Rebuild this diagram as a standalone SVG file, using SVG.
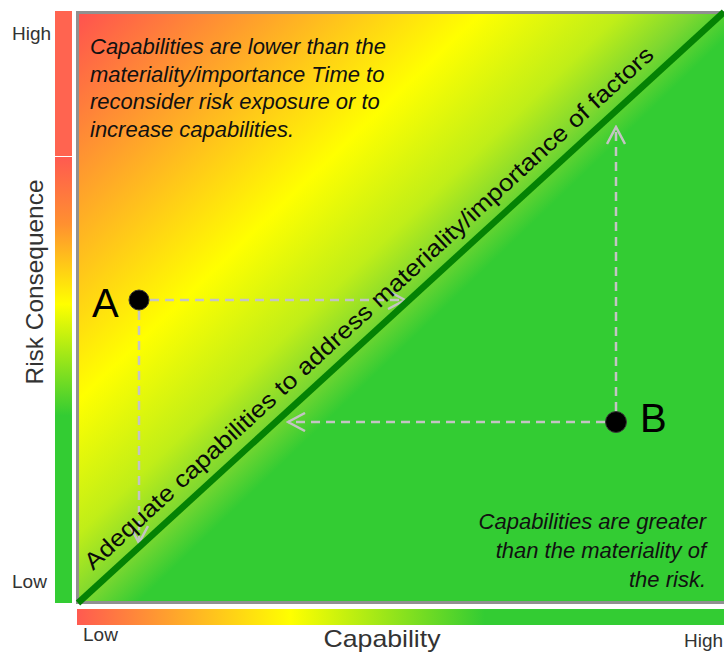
<svg xmlns="http://www.w3.org/2000/svg" width="724" height="652" viewBox="0 0 724 652">
<style>
.lbl{font-family:"Liberation Sans",Arial,sans-serif;fill:#333;}
.note{font-family:"Liberation Sans",Arial,sans-serif;font-style:italic;font-size:22px;fill:#111;}
.dash{stroke:#c4c4c4;stroke-width:2.5;stroke-dasharray:9 6;fill:none;marker-end:url(#arr);}
.pt{fill:#000;stroke:#3a3a3a;stroke-width:1;}
.big{font-family:"Liberation Sans",Arial,sans-serif;font-size:40px;fill:#000;}
</style>
<defs>
<linearGradient id="bg" gradientUnits="userSpaceOnUse" x1="76" y1="11" x2="682.4" y2="642.6">
<stop offset="0" stop-color="#ff5050"/>
<stop offset="0.3225" stop-color="#ffff00"/>
<stop offset="0.433" stop-color="#c0ee18"/>
<stop offset="0.49" stop-color="#7ed830"/>
<stop offset="0.536" stop-color="#33cc33"/>
<stop offset="1" stop-color="#33cc33"/>
</linearGradient>
<linearGradient id="vbar" x1="0" y1="0" x2="0" y2="1">
<stop offset="0" stop-color="#ff5a50"/>
<stop offset="0.15" stop-color="#ff9030"/>
<stop offset="0.33" stop-color="#ffff00"/>
<stop offset="0.58" stop-color="#33cc33"/>
<stop offset="1" stop-color="#33cc33"/>
</linearGradient>
<linearGradient id="hbar" x1="0" y1="0" x2="1" y2="0">
<stop offset="0" stop-color="#ff5a50"/>
<stop offset="0.33" stop-color="#ffff00"/>
<stop offset="0.63" stop-color="#33cc33"/>
<stop offset="1" stop-color="#33cc33"/>
</linearGradient>
<marker id="arr" viewBox="0 0 20 20" refX="18" refY="10" markerWidth="20" markerHeight="20" markerUnits="userSpaceOnUse" orient="auto">
<path d="M1,1 L18,10 L1,19" fill="none" stroke="#c4c4c4" stroke-width="2.5"/>
</marker>
</defs>
<rect width="724" height="652" fill="#fff"/>

<g id="axis-bars">
<rect x="55" y="11" width="17" height="145" fill="#ff6450"/>
<rect x="55" y="157" width="17" height="446" fill="url(#vbar)"/>
<rect x="77" y="609" width="647" height="16" fill="url(#hbar)"/>
</g>

<g id="plot-area">
<rect x="77.5" y="12.5" width="660" height="590" fill="url(#bg)" stroke="#909090" stroke-width="3"/>
</g>

<g id="axis-labels">
<text class="lbl" x="12" y="40" font-size="19">High</text>
<text class="lbl" x="12" y="588" font-size="19">Low</text>
<text class="lbl" x="83" y="641" font-size="19">Low</text>
<text class="lbl" x="684" y="647" font-size="19">High</text>
<text class="lbl" x="382" y="647" font-size="24" text-anchor="middle" textLength="117" lengthAdjust="spacingAndGlyphs">Capability</text>
<text class="lbl" transform="translate(43,282) rotate(-90)" font-size="24" text-anchor="middle" textLength="205" lengthAdjust="spacingAndGlyphs">Risk Consequence</text>
</g>

<g id="notes">
<text class="note" x="90" y="54">Capabilities are lower than the</text>
<text class="note" x="90" y="82">materiality/importance Time to</text>
<text class="note" x="90" y="109">reconsider risk exposure or to</text>
<text class="note" x="90" y="137">increase capabilities.</text>
<text class="note" x="706" y="529" text-anchor="end">Capabilities are greater</text>
<text class="note" x="706" y="558" text-anchor="end">than the materiality of</text>
<text class="note" x="706" y="587" text-anchor="end">the risk.</text>
</g>

<g id="connectors">
<line class="dash" x1="150" y1="300" x2="405" y2="300"/>
<line class="dash" x1="139" y1="311" x2="139" y2="543"/>
<line class="dash" x1="605" y1="422" x2="288" y2="422"/>
<line class="dash" x1="616" y1="411" x2="616" y2="127"/>
</g>

<g id="diagonal">
<line x1="78" y1="603" x2="724" y2="12" stroke="#048204" stroke-width="6.5"/>
<text transform="translate(93,571) rotate(-42.46)" font-family="Liberation Sans,Arial,sans-serif" font-size="23.5" fill="#0a0a0a" textLength="762" lengthAdjust="spacingAndGlyphs">Adequate capabilities to address materiality/importance of factors</text>
</g>

<g id="node-A">
<circle class="pt" cx="139" cy="300" r="10"/>
<text class="big" x="92" y="317">A</text>
</g>

<g id="node-B">
<circle class="pt" cx="616" cy="422" r="10.5"/>
<text class="big" x="640" y="432">B</text>
</g>
</svg>
